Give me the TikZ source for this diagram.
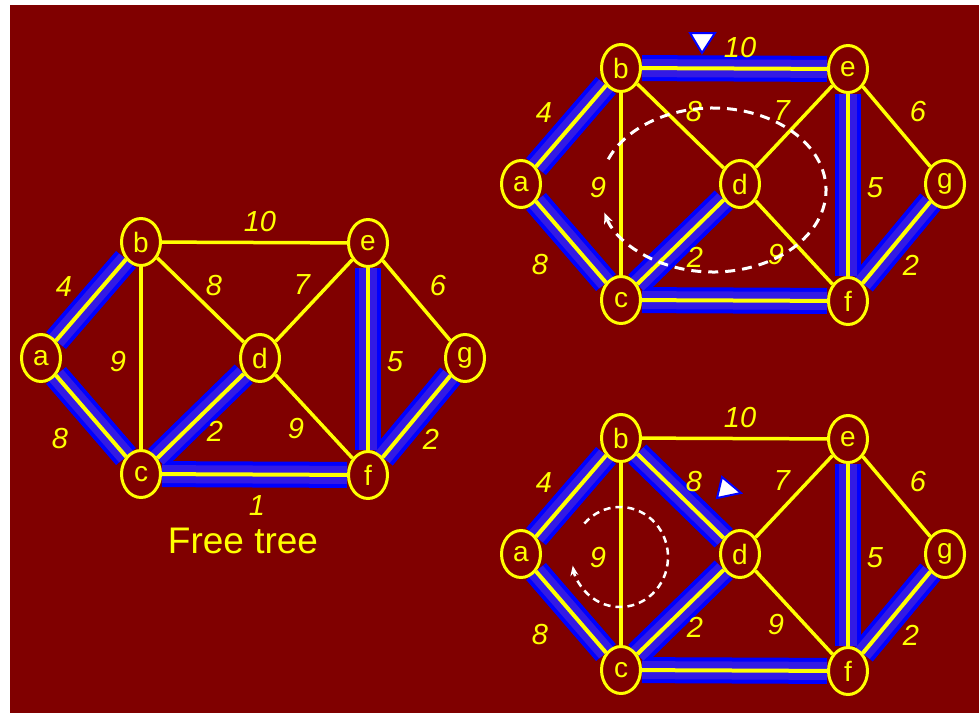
\documentclass[tikz,border=0pt]{standalone}
\usepackage{fontspec}
\setmainfont{Liberation Sans}
\usetikzlibrary{shapes.geometric,arrows.meta}
\definecolor{maroonbg}{RGB}{128,0,0}
\definecolor{bandblue}{RGB}{0,0,255}
\definecolor{bandin}{RGB}{51,26,228}
\definecolor{ylw}{RGB}{255,255,0}
\pgfdeclarelayer{back}
\pgfdeclarelayer{edges}
\pgfsetlayers{back,edges,main}
\tikzset{
  vtx/.style={ellipse,draw=ylw,line width=3pt,minimum width=39pt,minimum height=47pt,
    inner sep=0pt,text=ylw,font=\fontsize{28}{28}\selectfont},
  wlbl/.style={text=ylw,font=\fontsize{29}{29}\selectfont\itshape,inner sep=0pt},
  thinedge/.style={draw=ylw,line width=3.5pt},
  bandout/.style={draw=bandblue,line width=26pt},
  bandmid/.style={draw=bandin,line width=18pt},
  bandcore/.style={draw=ylw,line width=4pt},
  cycbig/.style={draw=white,line width=3pt,dash pattern=on 10pt off 7pt,
    -{Stealth[length=11pt,width=9pt]}},
  cycsmall/.style={draw=white,line width=2.5pt,dash pattern=on 7pt off 5pt,
    -{Stealth[length=10pt,width=8pt]}},
  marker/.style={fill=white,draw=bandblue,line width=2pt,line join=miter}
}
\newcommand\graphat[4]{%
\begin{scope}[shift={#2}]
  \node[vtx] (#1a) at (41,358) {a};
  \node[vtx] (#1b) at (141,242) {b};
  \node[vtx] (#1c) at (141,474) {c};
  \node[vtx] (#1d) at (260,358) {d};
  \node[vtx] (#1e) at (368,243) {e};
  \node[vtx] (#1f) at (368,475) {f};
  \node[vtx] (#1g) at (465,358) {g};
  \begin{pgfonlayer}{edges}
    \foreach \u/\v in {#3} \draw[bandout] (#1\u) -- (#1\v);
    \foreach \u/\v in {#3} \draw[bandmid] (#1\u) -- (#1\v);
    \foreach \u/\v in {#3} \draw[bandcore] (#1\u) -- (#1\v);
    \foreach \u/\v in {#4} \draw[thinedge] (#1\u) -- (#1\v);
  \end{pgfonlayer}
  \node[wlbl] (#1w10) at (260,222) {10};
  \node[wlbl] (#1wab) at (64,287) {4};
  \node[wlbl] (#1wbd) at (214,286) {8};
  \node[wlbl] (#1wde) at (302,285) {7};
  \node[wlbl] (#1weg) at (438,286) {6};
  \node[wlbl] (#1wbc) at (118,362) {9};
  \node[wlbl] (#1wef) at (395,362) {5};
  \node[wlbl] (#1wac) at (60,439) {8};
  \node[wlbl] (#1wcd) at (215,431) {2};
  \node[wlbl] (#1wdf) at (296,429) {9};
  \node[wlbl] (#1wfg) at (431,439) {2};
\end{scope}}
\begin{document}
\begin{tikzpicture}[x=1pt,y=-1pt]
  \useasboundingbox (0,0) rectangle (979,715);
  \begin{pgfonlayer}{back}
    \fill[white] (0,0) rectangle (979,715);
    \fill[maroonbg] (10,5) rectangle (979,713);
  \end{pgfonlayer}
  % left: free tree
  \graphat{L}{(0,0)}{a/b,a/c,c/d,c/f,e/f,f/g}{b/c,b/d,b/e,d/e,d/f,e/g}
  \node[wlbl] (Lw1) at (257,506) {1};
  \node[text=ylw,font=\fontsize{37}{37}\selectfont,inner sep=0pt] (cap) at (243,541) {Free tree};
  % top right
  \graphat{T}{(480,-174)}{a/b,a/c,c/d,c/f,e/f,f/g,b/e}{b/c,b/d,d/e,d/f,e/g}
  \path[marker] (690,33) -- (715,33) -- (702,53) -- cycle;
  \coordinate (tcyc) at (713,190);
  \draw[cycbig] ([shift={(202:113 and 82)}]tcyc) arc[start angle=202,end angle=524,x radius=113,y radius=82];
  % bottom right
  \graphat{B}{(480,196)}{a/b,a/c,c/d,c/f,e/f,f/g,b/d}{b/c,b/e,d/e,d/f,e/g}
  \path[marker] (717,498) -- (722,477) -- (741,493) -- cycle;
  \coordinate (bcyc) at (620,557);
  \draw[cycsmall] ([shift={(222:48 and 50)}]bcyc) arc[start angle=222,end angle=530,x radius=48,y radius=50];
\end{tikzpicture}
\end{document}
